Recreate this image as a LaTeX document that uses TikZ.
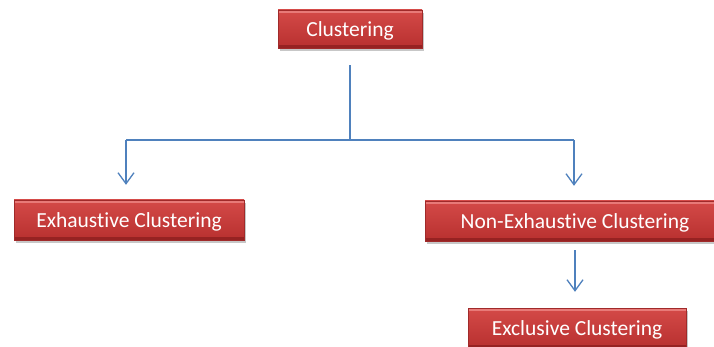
\documentclass[tikz,border=0pt]{standalone}
\usepackage{fontspec}
\setmainfont[Ligatures=NoCommon]{Carlito}
\usetikzlibrary{arrows.meta,shadows}
\definecolor{boxtop}{RGB}{212,74,72}
\definecolor{boxbot}{RGB}{184,48,47}
\definecolor{boxhi}{RGB}{232,122,120}
\definecolor{boxlo}{RGB}{150,34,34}
\definecolor{boxline}{RGB}{160,42,42}
\definecolor{linkblue}{RGB}{79,129,189}
\tikzset{
  redbox/.style={rectangle, draw=boxline, line width=0.4pt,
    top color=boxtop, bottom color=boxbot,
    text=white, font=\fontsize{21.5}{24}\selectfont, inner sep=0pt,
    text height=16pt, text depth=1pt,
    drop shadow={shadow xshift=1.5pt, shadow yshift=-3pt,
      fill=black, opacity=0.22},
    path picture={
      % bevel: light upper rim, dark lower rim
      \fill[boxhi] (path picture bounding box.north west)
        rectangle ([yshift=-3pt]path picture bounding box.north east);
      \fill[boxlo] (path picture bounding box.south west)
        rectangle ([yshift=3pt]path picture bounding box.south east);
    }},
  link/.style={draw=linkblue, line width=1.3pt,
    -{Straight Barb[length=11pt,width=16pt,line width=1.3pt]}},
  plainlink/.style={draw=linkblue, line width=1.3pt}
}
\begin{document}
\begin{tikzpicture}[x=1pt,y=1pt]
  \useasboundingbox[fill=white] (0,0) rectangle (714,-347);

  \node[redbox, minimum width=144pt, minimum height=38pt] (clu) at (350,-29) {Clustering};
  \node[redbox, minimum width=230pt, minimum height=40pt] (exh) at (129,-220) {Exhaustive Clustering};
  \node[redbox, minimum width=300pt, minimum height=40pt] (nex) at (575,-221) {Non-Exhaustive Clustering};
  \node[redbox, minimum width=218pt, minimum height=40pt] (exc) at (577,-328) {Exclusive Clustering};

  \coordinate (split) at (350,-140);
  \coordinate (lft) at (126,-140);
  \coordinate (rgt) at (574,-140);

  % trunk and branches
  \draw[plainlink, shorten <=17pt] (clu.south) -- (split);
  \draw[plainlink] (lft) -- (rgt);
  \draw[link, shorten >=15pt] (lft) -- (lft |- exh.north);
  \draw[link, shorten >=15pt] (rgt) -- (rgt |- nex.north);
  \draw[link, shorten <=9pt, shorten >=16pt] (nex.south) -- (nex.south |- exc.north);
\end{tikzpicture}
\end{document}
